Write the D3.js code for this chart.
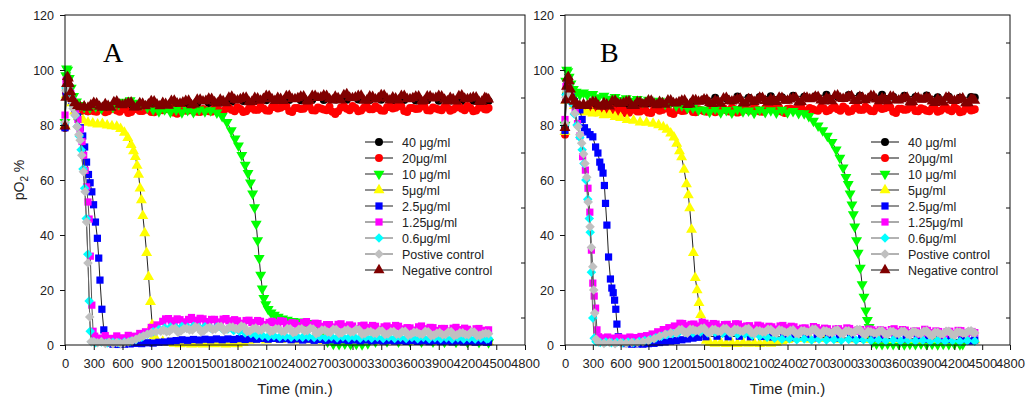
<!DOCTYPE html>
<html>
<head>
<meta charset="utf-8">
<script src="https://cdn.jsdelivr.net/npm/d3@7"></script>
<style>
body { margin: 0; background: #fff; }
text { font-family: "Liberation Sans", Arial, sans-serif; fill: #222; }
</style>
</head>
<body>
<script>
"use strict";
// legend labels and tick values
const names = ["40 μg/ml", "20μg/ml", "10 μg/ml", "5μg/ml", "2.5μg/ml", "1.25μg/ml", "0.6μg/ml", "Postive control", "Negative control"];
const xTicks = [0, 300, 600, 900, 1200, 1500, 1800, 2100, 2400, 2700, 3000, 3300, 3600, 3900, 4200, 4500, 4800];
const yTicks = [0, 20, 40, 60, 80, 100, 120];
const yMinor = [10, 30, 50, 70, 90, 110];

// panel A, [time (min), pO2 %]
const a40 = [[0,79],[10,93],[20,97],[35,97],[50,94],[70,90],[100,87],[140,85.5],[180,85.2],[240,85],[300,85.3],[420,85.5],[540,85.6],[660,86.2],[780,86.5],[900,86.7],[1020,87],[1140,87.3],[1260,87.6],[1380,87.8],[1500,88],[1620,88.2],[1740,88.5],[1860,88.7],[1980,88.8],[2100,89],[2220,88.9],[2340,89.1],[2460,89],[2580,89.2],[2700,89.1],[2820,89.3],[2940,89.2],[3060,89.3],[3180,89.1],[3300,89.2],[3420,89],[3540,89.1],[3660,88.9],[3780,89],[3900,88.8],[4020,88.9],[4140,88.7],[4260,88.8],[4380,88.6],[4420,88.7]];
const a20 = [[0,79],[10,91.5],[22,96],[35,96.5],[50,93.5],[70,90],[100,87],[140,85.8],[180,85.3],[240,85],[270,85.6],[300,85],[330,84.8],[360,86],[390,85.7],[420,84.6],[450,85],[480,85.8],[510,86.2],[540,85.3],[570,84.8],[600,86.3],[630,85.6],[660,84.4],[690,84.7],[720,85.7],[750,86.1],[780,85.1],[810,85.1],[840,86.2],[870,85.5],[900,84.7],[930,84.6],[960,85.9],[990,86.1],[1020,85.4],[1050,85.7],[1080,86.4],[1110,86.1],[1140,84.5],[1170,84.1],[1200,85.6],[1230,85.6],[1260,85.2],[1290,85.3],[1320,86.1],[1350,86.2],[1380,84.8],[1410,84.7],[1440,85.8],[1470,85.4],[1500,85],[1530,84.8],[1560,86],[1590,85.8],[1620,84.7],[1650,85.1],[1680,85.9],[1710,86.3],[1740,85.5],[1770,85],[1800,86.5],[1830,85.8],[1860,84.7],[1890,85],[1920,86],[1950,86.5],[1980,85.5],[2010,85.5],[2040,86.7],[2070,86],[2100,85.3],[2130,85.2],[2160,86.5],[2190,86.7],[2220,86],[2250,86.3],[2280,87],[2310,86.7],[2340,85.1],[2370,84.7],[2400,86.2],[2430,86.2],[2460,85.8],[2490,85.9],[2520,86.7],[2550,86.8],[2580,85.4],[2610,85.3],[2640,86.4],[2670,86],[2700,85.6],[2730,85.4],[2760,86.6],[2790,84.8],[2820,84],[2850,85],[2880,86.4],[2910,86.8],[2940,85.9],[2970,85.4],[3000,86.9],[3030,86.2],[3060,85],[3090,85.3],[3120,86.3],[3150,86.7],[3180,85.7],[3210,85.7],[3240,86.8],[3270,86.1],[3300,85.3],[3330,85.2],[3360,86.5],[3390,86.7],[3420,86],[3450,86.3],[3480,87],[3510,86.7],[3540,85.1],[3570,84.7],[3600,86.2],[3630,86.2],[3660,85.8],[3690,85.9],[3720,86.7],[3750,86.8],[3780,85.4],[3810,85.3],[3840,86.4],[3870,86],[3900,85.6],[3930,85.4],[3960,86.6],[3990,86.3],[4020,85.2],[4050,85.6],[4080,86.4],[4110,86.8],[4140,85.9],[4170,85.4],[4200,86.9],[4230,86.2],[4260,85],[4290,85.3],[4320,86.3],[4350,86.7],[4380,85.7],[4400,85.6],[4420,86.2]];
const a10 = [[0,81],[8,98],[16,100.5],[28,100],[45,97],[65,93.5],[90,90.5],[120,88.5],[160,87.2],[200,86.5],[260,86.3],[320,86.8],[380,86],[440,87.2],[500,86.5],[560,87.6],[620,88.4],[680,88.9],[740,88],[800,87.4],[860,86.4],[920,85.6],[980,84.9],[1040,85.7],[1100,84.8],[1160,85.5],[1220,84.6],[1280,85.4],[1340,84.7],[1400,85.6],[1460,84.9],[1520,85.3],[1585,84.5],[1640,83.2],[1690,81],[1735,78],[1775,75],[1810,72.5],[1845,69],[1880,65.5],[1910,62.5],[1935,59],[1958,55],[1978,50],[1995,44],[2010,38],[2026,31.6],[2042,25.5],[2058,20.5],[2075,17],[2095,14.8],[2120,13],[2150,11.8],[2185,10.9],[2225,10.2],[2270,9.6],[2320,9.1],[2380,8.7],[2440,8.5],[2500,8.3],[2560,7.9],[2620,6.5],[2680,3.5],[2740,1.2],[2800,0.4],[2860,0.3],[2920,0.5],[2980,0.3],[3040,0.4],[3100,0.2],[3160,0.6],[3240,1.2],[3360,1.3],[3480,1.2],[3600,1.3],[3720,1.2],[3840,1.2],[3960,1.1],[4080,1.1],[4200,1],[4320,1],[4420,0.9]];
const a5 = [[0,80],[12,91],[25,94],[45,92],[70,88],[100,85],[140,83],[190,81.8],[240,80.9],[290,80.6],[340,80.2],[390,80.4],[440,79.9],[490,79.6],[540,79.4],[580,78.6],[620,77.2],[655,75.3],[690,72.8],[715,70.5],[735,68.4],[752,65.2],[768,62],[783,57],[797,52.7],[812,47],[832,40.7],[852,33.5],[872,24.8],[892,15.7],[910,7.3],[930,3.2],[960,1.6],[1020,1.2],[1080,0.8],[1140,0.5],[1200,0.3],[1260,0.5],[1320,0.2],[1380,0.4],[1440,0.2],[1500,0.5],[1560,0.3],[1620,0.5],[1680,0.2],[1740,0.4],[1800,0.3],[1860,0.9],[1920,1.6],[1980,1.8],[2100,1.7],[2250,1.9],[2400,1.7],[2550,1.8],[2700,1.6],[2850,1.7],[3000,1.5],[3150,1.6],[3300,1.4],[3450,1.5],[3600,1.3],[3750,1.4],[3900,1.2],[4050,1.3],[4200,1.1],[4350,1.2],[4420,1.1]];
const a25 = [[0,79],[12,91],[25,94],[45,92],[70,89],[100,86],[130,83],[160,79],[185,76],[205,72],[225,66.5],[245,62],[262,59],[280,55.7],[298,51],[318,44.7],[338,38.8],[352,31.6],[365,23.6],[385,13],[405,5.5],[425,1.8],[450,0.6],[500,0.3],[560,0.2],[620,0.3],[680,0.4],[740,0.6],[800,0.5],[860,0.8],[920,0.7],[980,1],[1040,1.1],[1100,1.4],[1160,1.6],[1220,1.9],[1280,1.7],[1340,2],[1400,1.8],[1460,2.1],[1520,1.9],[1580,2.2],[1640,1.9],[1700,2.2],[1760,2],[1820,2.3],[1880,2],[1940,2.3],[2000,2.1],[2060,2.4],[2120,2.1],[2180,2.4],[2240,2.1],[2300,2.3],[2360,1.9],[2420,2.2],[2480,1.8],[2540,2.1],[2600,1.7],[2660,2],[2720,1.7],[2780,1.9],[2840,1.6],[2900,1.9],[2960,1.6],[3020,1.8],[3080,1.5],[3140,1.8],[3200,1.5],[3260,1.7],[3320,1.4],[3380,1.7],[3440,1.4],[3500,1.6],[3560,1.3],[3620,1.6],[3680,1.3],[3740,1.5],[3800,1.2],[3860,1.5],[3920,1.2],[3980,1.4],[4040,1.1],[4100,1.4],[4160,1.1],[4220,1.3],[4280,1],[4340,1.2],[4400,1],[4420,1.1]];
const a125 = [[0,83.6],[10,96],[22,96.5],[40,94],[60,91.5],[85,88.5],[110,85.5],[135,82],[158,78.5],[178,74],[195,69],[210,63.5],[225,57.5],[240,52],[252,45.8],[264,32.3],[280,14.5],[293,5],[310,3.2],[360,2.5],[420,3.4],[480,2.4],[540,3.3],[600,2.6],[660,3.5],[720,3.2],[780,4.2],[840,4.8],[900,6.4],[960,7.3],[1020,8.6],[1050,9.5],[1080,9.6],[1110,8.8],[1140,8.6],[1170,9.5],[1200,9.2],[1230,8.4],[1260,8.2],[1290,9.3],[1320,10],[1350,9],[1380,8.8],[1410,9.7],[1440,9.5],[1470,8.5],[1500,8.1],[1530,9.3],[1560,9.3],[1590,8.3],[1620,8.3],[1650,9.4],[1680,9.6],[1710,8.8],[1740,8.5],[1770,9.2],[1800,8.8],[1830,7.9],[1860,7.8],[1890,8.9],[1920,9],[1950,8.2],[1980,8],[2010,8.9],[2040,8.6],[2070,7.4],[2100,7.1],[2130,8.2],[2160,8.6],[2190,8],[2220,7.9],[2250,8.8],[2280,8.6],[2310,7.6],[2340,7.4],[2370,8.1],[2400,7.9],[2430,7],[2460,6.8],[2490,8.2],[2520,8.5],[2550,7.3],[2580,7.2],[2610,7.9],[2640,7.8],[2670,6.8],[2700,6.3],[2730,7.4],[2760,7.4],[2790,6.5],[2820,6.4],[2850,7.5],[2880,7.7],[2910,6.8],[2940,6.6],[2970,7.3],[3000,6.9],[3030,5.9],[3060,5.9],[3090,7],[3120,7.2],[3150,6.4],[3180,6.2],[3210,7.1],[3240,6.8],[3270,5.7],[3300,5.3],[3330,6.6],[3360,6.9],[3390,6.2],[3420,6.2],[3450,7.1],[3480,6.8],[3510,5.8],[3540,5.7],[3570,6.3],[3600,6.2],[3630,5.4],[3660,5.1],[3690,6.6],[3720,6.9],[3750,5.9],[3780,5.6],[3810,6.4],[3840,6.3],[3870,5.3],[3900,4.8],[3930,6],[3960,6],[3990,5],[4020,5],[4050,6.1],[4080,6.4],[4110,5.6],[4140,5.3],[4170,6.1],[4200,5.7],[4230,4.8],[4260,4.7],[4290,5.9],[4320,6],[4350,5.3],[4380,5.1],[4400,5.3],[4420,5.5]];
const a06 = [[0,80.7],[10,93.5],[25,94],[45,92],[65,90],[88,87],[108,83.5],[128,79.5],[148,76],[168,71],[188,64],[205,57],[222,46],[238,33],[252,16],[263,5],[278,1.2],[320,0.8],[380,1.1],[440,0.7],[500,1],[560,0.8],[620,1.1],[680,1.3],[740,1.9],[800,2.8],[860,3.8],[920,4.8],[980,5.6],[1040,6.2],[1100,6.5],[1160,6.3],[1220,6.7],[1280,6.4],[1340,6.8],[1400,6.4],[1460,6.6],[1520,6.2],[1580,6.4],[1640,5.9],[1700,5.8],[1760,5.3],[1820,5],[1880,4.4],[1940,4.1],[2000,3.6],[2060,3.4],[2120,3.1],[2180,3.3],[2240,2.9],[2300,3.2],[2360,2.8],[2420,3.1],[2480,2.8],[2540,3.1],[2600,2.7],[2660,3],[2720,2.7],[2780,3],[2840,2.6],[2900,2.9],[2960,2.6],[3020,2.9],[3080,2.5],[3140,2.8],[3200,2.5],[3260,2.8],[3320,2.4],[3380,2.8],[3440,2.4],[3500,2.7],[3560,2.4],[3620,2.7],[3680,2.3],[3740,2.7],[3800,2.3],[3860,2.6],[3920,2.3],[3980,2.6],[4040,2.2],[4100,2.6],[4160,2.2],[4220,2.5],[4280,2.2],[4340,2.5],[4400,2.2],[4420,2.4]];
const aPos = [[0,81],[10,92.5],[22,93.5],[35,92.7],[60,89],[85,86],[105,83.6],[125,79.4],[145,76.5],[158,74.5],[175,69],[192,63],[210,55.7],[225,44.7],[240,29.8],[258,10.2],[272,1.2],[300,1.3],[340,0.8],[380,1.2],[420,0.6],[460,1],[500,0.5],[540,0.9],[580,0.5],[620,0.8],[660,1.1],[700,1.5],[740,2.1],[780,2.7],[820,3.3],[860,3.9],[900,4.4],[950,4.8],[1000,5],[1030,5.4],[1060,4.8],[1090,5],[1120,5.9],[1150,6],[1180,4.6],[1210,5.1],[1240,5.9],[1270,6],[1300,5.5],[1330,5.5],[1360,6.6],[1390,6.3],[1420,4.8],[1450,5.2],[1480,6.1],[1510,6.4],[1540,5.6],[1570,5.8],[1600,6.7],[1630,6.7],[1660,5.3],[1690,5.7],[1720,6.5],[1750,6.5],[1780,5.9],[1810,5.8],[1840,6.9],[1870,6.5],[1900,4.9],[1930,5.1],[1960,5.9],[1990,6.2],[2020,5.4],[2050,5.5],[2080,6.3],[2110,6.3],[2140,4.9],[2170,5.2],[2200,5.9],[2230,5.8],[2260,5],[2290,4.9],[2320,6],[2350,5.9],[2380,4.5],[2410,4.8],[2440,5.7],[2470,5.9],[2500,5.1],[2530,5.2],[2560,6.1],[2590,5.8],[2620,4.1],[2650,4.6],[2680,5.4],[2710,5.4],[2740,4.7],[2770,4.6],[2800,5.7],[2830,5.6],[2860,4.2],[2890,4.5],[2920,5.3],[2950,5.5],[2980,4.7],[3010,4.8],[3040,5.7],[3070,5.5],[3100,3.9],[3130,4.2],[3160,4.8],[3190,4.9],[3220,4.3],[3250,4.2],[3280,5.2],[3310,5.1],[3340,3.8],[3370,4],[3400,4.8],[3430,4.9],[3460,3.9],[3490,4],[3520,4.9],[3550,5],[3580,3.6],[3610,3.9],[3640,4.6],[3670,4.6],[3700,4],[3730,3.9],[3760,5],[3790,4.8],[3820,3.4],[3850,3.6],[3880,4.3],[3910,4.5],[3940,3.7],[3970,3.8],[4000,4.7],[4030,4.8],[4060,3.4],[4090,3.7],[4120,4.4],[4150,4.4],[4180,3.8],[4210,3.7],[4240,4.8],[4270,4.7],[4300,3.4],[4330,3.5],[4360,4],[4390,4.3],[4420,4.1]];
const aNeg = [[0,79.5],[8,90],[16,95],[25,97.5],[35,97],[45,95],[60,92],[80,89.5],[100,88],[130,87],[160,86.5],[200,86.8],[240,86.3],[270,87.2],[300,88.1],[330,87.9],[360,86.7],[390,86.3],[420,87.6],[450,87],[480,86.3],[510,88.3],[540,88.6],[570,87.4],[600,87.2],[630,87.6],[660,88.1],[690,88.2],[720,86.4],[750,86.5],[780,88],[810,87.8],[840,86.9],[870,87.5],[900,88.7],[930,88.6],[960,87.5],[990,86.9],[1020,88.1],[1050,87.7],[1080,87.1],[1110,88.8],[1140,88.9],[1170,87.9],[1200,87.8],[1230,88.2],[1260,88.8],[1290,88.9],[1320,87.2],[1350,87.5],[1380,89.2],[1410,89.2],[1440,88.6],[1470,88.8],[1500,89.6],[1530,89.5],[1560,88.3],[1590,87.9],[1620,89.2],[1650,88.7],[1680,88],[1710,90],[1740,90.3],[1770,89.2],[1800,89],[1830,89.4],[1860,89.9],[1890,90],[1920,88.3],[1950,88.4],[1980,89.9],[2010,89.7],[2040,88.9],[2070,89.5],[2100,90.6],[2130,90.5],[2160,89.4],[2190,88.8],[2220,89.9],[2250,89.5],[2280,88.8],[2310,90.5],[2340,90.6],[2370,89.5],[2400,89.4],[2430,89.8],[2460,90.3],[2490,90.4],[2520,88.6],[2550,88.9],[2580,90.6],[2610,90.6],[2640,89.9],[2670,90.1],[2700,90.8],[2730,90.6],[2760,89.4],[2790,89],[2820,90.3],[2850,89.8],[2880,89],[2910,90.9],[2940,91.2],[2970,90],[3000,89.8],[3030,90.1],[3060,90.6],[3090,90.7],[3120,88.9],[3150,89],[3180,90.4],[3210,90.2],[3240,89.3],[3270,89.8],[3300,90.9],[3330,90.8],[3360,89.6],[3390,89],[3420,90.1],[3450,89.7],[3480,89],[3510,90.6],[3540,90.6],[3570,89.5],[3600,89.4],[3630,89.8],[3660,90.3],[3690,90.4],[3720,88.6],[3750,88.8],[3780,90.4],[3810,90.4],[3840,89.7],[3870,89.9],[3900,90.6],[3930,90.4],[3960,89.2],[3990,88.7],[4020,89.9],[4050,89.4],[4080,88.6],[4110,90.5],[4140,90.8],[4170,89.6],[4200,89.4],[4230,89.7],[4260,90.1],[4290,90.1],[4320,88.4],[4350,88.5],[4380,89.9],[4400,89.6],[4420,89.3]];

// panel B, [time (min), pO2 %]
const b40 = [[0,79.5],[10,91],[25,96],[40,96.5],[60,93],[90,89.5],[130,87.5],[200,87],[300,87.2],[420,87.4],[540,87.3],[660,87.6],[780,87.5],[900,87.8],[1020,87.7],[1140,88],[1260,88.2],[1380,88.6],[1500,89.4],[1620,89.9],[1740,89.6],[1860,90.4],[1980,89.9],[2100,90.2],[2220,90.5],[2340,90.1],[2460,90.6],[2580,90.3],[2700,90.5],[2820,91],[2940,90.4],[3060,90.9],[3180,90.6],[3300,90.4],[3420,91],[3540,90.3],[3660,90.6],[3780,90.2],[3900,90.7],[4020,90.1],[4140,90.3],[4260,89.9],[4380,90.2],[4420,90]];
const b20 = [[0,76.5],[10,90],[25,95],[40,95.5],[60,92],[90,88.5],[130,86.5],[180,85.5],[240,85.2],[270,85.7],[300,84.8],[330,84.6],[360,85.8],[390,85.5],[420,84.4],[450,84.8],[480,85.6],[510,86],[540,85.1],[570,84.6],[600,86.1],[630,85.4],[660,84.2],[690,84.5],[720,85.5],[750,85.9],[780,84.9],[810,84.9],[840,86],[870,85.3],[900,84.5],[930,84.4],[960,85.7],[990,85.9],[1020,85.2],[1050,85.5],[1080,86.2],[1110,85.9],[1140,84.4],[1170,84],[1200,85.5],[1230,85.5],[1260,85.1],[1290,85.2],[1320,86],[1350,86.1],[1380,84.7],[1410,84.6],[1440,85.7],[1470,85.4],[1500,85],[1530,84.8],[1560,86],[1590,85.7],[1620,84.6],[1650,85],[1680,85.8],[1710,86.2],[1740,85.4],[1770,84.9],[1800,86.4],[1830,85.7],[1860,84.5],[1890,84.8],[1920,85.8],[1950,86.3],[1980,85.3],[2010,85.3],[2040,86.4],[2070,85.7],[2100,84.9],[2130,84.8],[2160,86.1],[2190,86.3],[2220,85.7],[2250,86],[2280,86.7],[2310,86.4],[2340,84.8],[2370,84.4],[2400,85.9],[2430,86],[2460,85.6],[2490,85.7],[2520,86.5],[2550,86.6],[2580,85.2],[2610,85.1],[2640,86.2],[2670,85.8],[2700,85.4],[2730,85.2],[2760,86.4],[2790,86.1],[2820,85],[2850,85.4],[2880,86.2],[2910,86.6],[2940,85.7],[2970,85.2],[3000,86.7],[3030,86],[3060,84.8],[3090,85.1],[3120,86.1],[3150,86.5],[3180,85.5],[3210,85.5],[3240,86.6],[3270,85.9],[3300,85.1],[3330,85],[3360,86.3],[3390,86.5],[3420,85.8],[3450,86.1],[3480,86.8],[3510,86.4],[3540,84.8],[3570,84.4],[3600,85.9],[3630,85.9],[3660,85.5],[3690,85.6],[3720,86.4],[3750,86.5],[3780,85.1],[3810,85],[3840,86.1],[3870,85.7],[3900,85.2],[3930,85],[3960,86.2],[3990,85.9],[4020,84.8],[4050,85.2],[4080,86],[4110,86.4],[4140,85.5],[4170,85],[4200,86.5],[4230,85.8],[4260,84.6],[4290,84.9],[4320,85.9],[4350,86.3],[4380,85.3],[4400,85.5],[4420,85.7]];
const b10 = [[0,80],[8,96],[18,100],[30,99.5],[45,97.5],[65,95],[90,93],[120,92],[160,91],[200,91.8],[240,90.9],[300,91.2],[360,90],[420,90.6],[480,89.5],[540,90.1],[600,89],[660,89.7],[720,88.8],[780,89.4],[840,88.4],[900,89.1],[960,88.2],[1020,88.8],[1080,87.7],[1140,88.2],[1200,87],[1260,87.1],[1320,86.2],[1380,86.3],[1440,85.5],[1500,85.6],[1560,84.8],[1620,85.9],[1680,84.6],[1740,85.4],[1800,84.5],[1860,85.8],[1920,84.9],[1980,85.2],[2040,84.4],[2100,85.6],[2160,84.7],[2220,85.3],[2280,84.5],[2340,85.5],[2400,84.6],[2460,85],[2520,84.3],[2580,84.2],[2630,83.2],[2680,81.5],[2730,79.8],[2780,78],[2830,76],[2880,73.8],[2925,71],[2965,68],[3000,64.5],[3030,61],[3055,58.5],[3075,55],[3095,51],[3110,47.5],[3125,43],[3145,38],[3162,33.5],[3185,28],[3205,22],[3225,17.5],[3245,12.5],[3262,9],[3280,6.5],[3300,3.2],[3320,1.2],[3360,0.5],[3420,0.3],[3480,0.5],[3540,0.3],[3600,0.4],[3660,0.2],[3720,0.4],[3780,0.3],[3840,0.5],[3900,0.3],[3960,0.4],[4020,0.2],[4080,0.4],[4140,0.3],[4200,0.4],[4260,0.2],[4290,0.3]];
const b5 = [[0,77.5],[12,89],[25,93],[45,91.5],[70,89],[100,87],[140,85.5],[190,84.8],[240,84.6],[300,84.2],[360,84.3],[420,83.6],[480,83.7],[540,83],[600,82.6],[670,81.9],[740,81.6],[810,81],[880,80.9],[950,80.5],[1010,80],[1060,79.2],[1100,78.3],[1140,77],[1175,75.5],[1205,73.2],[1235,70.5],[1258,68.3],[1285,63.8],[1310,58.5],[1330,54.5],[1345,49.8],[1365,42],[1385,33.5],[1405,24.4],[1425,20],[1445,15.3],[1463,11],[1480,7.8],[1500,4],[1525,1.6],[1560,0.8],[1620,0.5],[1680,0.8],[1740,0.4],[1800,0.7],[1860,0.4],[1920,0.8],[1980,0.5],[2040,0.7],[2100,0.4],[2160,0.8],[2220,0.5],[2280,0.9],[2340,1.4],[2400,1.9],[2500,2.2],[2650,2],[2800,2.2],[2950,2],[3100,2.1],[3250,1.9],[3400,2.1],[3550,1.9],[3700,2],[3850,1.8],[4000,2],[4150,1.8],[4300,1.9],[4420,1.8]];
const b25 = [[0,78],[12,90],[25,93],[45,92],[70,90],[100,88.5],[130,87],[160,85.5],[185,82],[210,79],[240,77.5],[270,76.5],[300,75.7],[330,72],[355,69.8],[375,66.5],[392,64.7],[410,62.5],[425,58],[437,51.5],[452,43.6],[470,32],[490,24],[505,20.7],[520,19],[535,16.3],[548,13],[560,7.6],[575,3],[600,1],[660,0.5],[720,0.3],[780,0.4],[840,0.3],[900,0.5],[960,0.6],[1020,0.9],[1080,1.1],[1140,1.4],[1200,1.6],[1260,1.9],[1320,2.2],[1380,2.5],[1440,2.8],[1520,3],[1640,3.2],[1760,3],[1880,3.2],[2000,3],[2120,3.1],[2240,2.9],[2360,3],[2480,2.7],[2600,2.8],[2720,2.6],[2840,2.7],[2960,2.5],[3080,2.6],[3200,2.4],[3320,2.5],[3440,2.3],[3560,2.4],[3680,2.2],[3800,2.3],[3920,2.1],[4040,2.2],[4160,2],[4280,2.1],[4370,1.4],[4420,1.8]];
const b125 = [[0,82],[10,94],[22,95.5],[40,93.5],[60,91],[85,88],[110,85],[135,80.5],[160,76],[190,68.5],[220,63.6],[248,57],[268,48.3],[285,34.5],[300,22.5],[315,17.8],[330,13.4],[345,5.5],[362,3],[400,2.6],[460,2.9],[520,2.5],[580,2.8],[640,2.5],[700,2.9],[760,2.7],[820,3.1],[880,3.4],[940,4],[1000,4.8],[1060,5.6],[1120,6.3],[1180,6.9],[1240,7.9],[1270,7.8],[1300,6.9],[1330,6.9],[1360,7.5],[1390,7.6],[1420,6.5],[1450,6.9],[1480,8.3],[1510,7.9],[1540,7.1],[1570,7.1],[1600,7.8],[1630,7.6],[1660,6.3],[1690,6.6],[1720,7.4],[1750,7.5],[1780,6.4],[1810,6.7],[1840,7.7],[1870,7.6],[1900,6.6],[1930,6.5],[1960,6.9],[1990,7],[2020,5.9],[2050,6.1],[2080,7.2],[2110,6.9],[2140,6.2],[2170,6.1],[2200,6.8],[2230,6.6],[2260,5.3],[2290,5.8],[2320,6.9],[2350,7.1],[2380,6.2],[2410,6.1],[2440,6.8],[2470,6.6],[2500,5.6],[2530,5.6],[2560,6.1],[2590,6.2],[2620,5],[2650,5.4],[2680,6.7],[2710,6.3],[2740,5.4],[2770,5.4],[2800,6.1],[2830,5.9],[2860,4.6],[2890,4.9],[2920,5.8],[2950,5.9],[2980,4.8],[3010,5.1],[3040,6.2],[3070,6],[3100,5.1],[3130,5],[3160,5.5],[3190,5.6],[3220,4.5],[3250,4.7],[3280,5.8],[3310,5.5],[3340,4.8],[3370,4.8],[3400,5.5],[3430,5.3],[3460,4],[3490,4.5],[3520,5.6],[3550,5.9],[3580,4.9],[3610,4.9],[3640,5.6],[3670,5.4],[3700,4.4],[3730,4.4],[3760,5],[3790,5.1],[3820,3.9],[3850,4.3],[3880,5.7],[3910,5.3],[3940,4.4],[3970,4.4],[4000,5.1],[4030,4.9],[4060,3.7],[4090,4],[4120,4.8],[4150,5],[4180,3.9],[4210,4.2],[4240,5.3],[4270,5.2],[4300,4.3],[4330,4.2],[4360,4.7],[4390,4.9],[4420,4.5]];
const b06 = [[0,80],[10,91],[25,92],[45,90.5],[70,88],[100,84],[130,80],[160,75.5],[185,71],[205,66],[225,60],[245,53],[262,46],[272,41],[285,26.5],[300,9.8],[315,2.5],[335,1.2],[380,0.9],[440,1.1],[500,0.8],[560,1],[620,0.8],[680,1.1],[740,0.9],[800,1.3],[860,1.6],[920,2],[980,2.6],[1040,3.2],[1100,3.7],[1160,4.1],[1220,4.4],[1300,4.6],[1380,4.4],[1460,4.7],[1540,4.4],[1620,4.6],[1700,4.2],[1780,4.4],[1860,3.9],[1940,4],[2020,3.5],[2100,3.3],[2180,2.8],[2260,2.5],[2340,2.1],[2420,2.3],[2500,1.9],[2580,2.2],[2660,1.8],[2740,2.1],[2820,1.8],[2900,2],[2980,1.7],[3060,2],[3140,1.7],[3220,1.9],[3300,1.6],[3380,1.9],[3460,1.6],[3540,1.8],[3620,1.5],[3700,1.8],[3780,1.5],[3860,1.7],[3940,1.4],[4020,1.7],[4100,1.4],[4180,1.6],[4260,1.3],[4340,1.6],[4420,1.4]];
const bPos = [[0,80.5],[10,90],[20,92.5],[40,91.5],[75,89],[105,84.3],[140,79.4],[160,76.5],[180,73.4],[200,69.5],[215,66],[235,61],[250,52],[270,43],[285,35.5],[300,28.5],[310,20],[320,11.6],[335,2.2],[360,1],[420,0.6],[480,0.9],[540,0.5],[600,0.8],[660,0.6],[720,0.9],[780,0.8],[840,1.2],[900,1.6],[960,2.3],[1020,3.2],[1080,3.9],[1140,4.4],[1200,4.4],[1230,5.5],[1260,5.6],[1290,4.6],[1320,4.3],[1350,5.7],[1380,5.6],[1410,5.2],[1440,5.2],[1470,6],[1500,6.2],[1530,4.7],[1560,4.3],[1590,5.6],[1620,5.6],[1650,5],[1680,4.9],[1710,6],[1740,6],[1770,4.8],[1800,4.4],[1830,5.7],[1860,5.6],[1890,5.1],[1920,5],[1950,5.8],[1980,6],[2010,4.5],[2040,4.1],[2070,5.3],[2100,5.2],[2130,4.7],[2160,4.7],[2190,5.7],[2220,5.6],[2250,4.6],[2280,4.3],[2310,5.5],[2340,5.3],[2370,4.7],[2400,4.5],[2430,5.3],[2460,5.5],[2490,4.2],[2520,4],[2550,5.2],[2580,5.2],[2610,4.7],[2640,4.7],[2670,5.7],[2700,5.7],[2730,4.4],[2760,3.8],[2790,5.2],[2820,5.1],[2850,4.6],[2880,4.4],[2910,5.3],[2940,5.5],[2970,4.2],[3000,4],[3030,5.2],[3060,5.2],[3090,4.6],[3120,4.6],[3150,5.6],[3180,5.6],[3210,4.3],[3240,3.7],[3270,5],[3300,4.8],[3330,4.4],[3360,4.3],[3390,5.1],[3420,5.2],[3450,4],[3480,3.9],[3510,5],[3540,4.9],[3570,4.2],[3600,4],[3630,5],[3660,5],[3690,3.9],[3720,3.6],[3750,4.9],[3780,4.8],[3810,4.3],[3840,4.2],[3870,5],[3900,5.2],[3930,3.7],[3960,3.4],[3990,4.6],[4020,4.6],[4050,4],[4080,4],[4110,5],[4140,5],[4170,3.9],[4200,3.5],[4230,4.8],[4260,4.7],[4290,4.3],[4320,4.2],[4350,5],[4380,5.2],[4400,4.6],[4420,4.4]];
const bNeg = [[0,79],[8,89],[16,94],[25,97],[35,97.5],[45,96],[60,93],[80,90],[100,88.5],[130,87.5],[160,87],[200,87.5],[240,87],[270,87.9],[300,88.4],[330,88.3],[360,87.1],[390,86.7],[420,88],[450,87.5],[480,86.8],[510,88.7],[540,88.9],[570,87.8],[600,87.7],[630,88],[660,88.5],[690,88.7],[720,87],[750,87],[780,88.4],[810,88.3],[840,87.5],[870,88],[900,89],[930,88.9],[960,87.8],[990,87.2],[1020,88.4],[1050,88],[1080,87.4],[1110,89],[1140,89],[1170,88],[1200,87.9],[1230,88.3],[1260,88.9],[1290,89],[1320,87.3],[1350,87.5],[1380,89.1],[1410,89.1],[1440,88.5],[1470,88.6],[1500,89.3],[1530,89.2],[1560,88.1],[1590,87.7],[1620,89],[1650,88.5],[1680,87.8],[1710,89.7],[1740,89.9],[1770,88.8],[1800,88.6],[1830,88.9],[1860,89.4],[1890,89.6],[1920,87.9],[1950,88],[1980,89.4],[2010,89.2],[2040,88.4],[2070,88.9],[2100,90],[2130,89.9],[2160,88.8],[2190,88.2],[2220,89.4],[2250,89],[2280,88.4],[2310,90],[2340,89.9],[2370,88.9],[2400,88.9],[2430,89.3],[2460,89.8],[2490,89.9],[2520,88.2],[2550,88.4],[2580,90],[2610,90],[2640,89.4],[2670,89.6],[2700,90.3],[2730,90.2],[2760,89],[2790,88.6],[2820,89.9],[2850,89.4],[2880,88.7],[2910,90.6],[2940,90.8],[2970,89.7],[3000,89.5],[3030,89.8],[3060,90.3],[3090,90.5],[3120,88.8],[3150,88.8],[3180,90.2],[3210,90],[3240,89.1],[3270,89.6],[3300,90.6],[3330,90.5],[3360,89.3],[3390,88.7],[3420,89.8],[3450,89.4],[3480,88.7],[3510,90.3],[3540,90.2],[3570,89.1],[3600,89],[3630,89.4],[3660,89.9],[3690,90],[3720,88.2],[3750,88.4],[3780,89.9],[3810,89.9],[3840,89.2],[3870,89.3],[3900,90],[3930,89.8],[3960,88.6],[3990,88.1],[4020,89.4],[4050,88.9],[4080,88.2],[4110,90],[4140,90.1],[4170,89],[4200,88.8],[4230,89.1],[4260,89.5],[4290,89.7],[4320,88],[4350,88],[4380,89.4],[4400,89.2],[4420,88.9]];

const panelA = [a40, a20, a10, a5, a25, a125, a06, aPos, aNeg];
const panelB = [b40, b20, b10, b5, b25, b125, b06, bPos, bNeg];

// styles
const colors = ["#000000", "#ff0000", "#00ff00", "#ffff00", "#0000ff", "#ff00ff", "#00ffff", "#c0c0c0", "#800000"];
const shapes = ["circle", "circle", "down", "up", "square", "square", "diamond", "diamond", "up"];
const lineColors = ["#111", "#111", "#222", "#222", "#222", "#555", "#666", "#666", "#111"];

const W = 1035, H = 405;
const plotTop = 15, plotBottom = 345;
const svg = d3.select("body").append("svg").attr("width", W).attr("height", H);

function symbolPath(shape) {
	if (shape == "circle") return d3.symbol(d3.symbolCircle, 50)();
	if (shape == "square") return d3.symbol(d3.symbolSquare, 52)();
	if (shape == "diamond") return d3.symbol(d3.symbolSquare, 46)();
	return d3.symbol(d3.symbolTriangle, 52)();
}
function symbolRot(shape) {
	if (shape == "down") return " rotate(180)";
	if (shape == "diamond") return " rotate(45)";
	return "";
}

function panel(series, x0, x1, letter, letterX, legendX, yTitle) {
	const x = d3.scaleLinear().domain([0, 4800]).range([x0, x1]);
	const y = d3.scaleLinear().domain([0, 120]).range([plotBottom, plotTop]);
	const g = svg.append("g");

	// data
	const line = d3.line().x(d => x(d[0])).y(d => y(d[1]));
	series.forEach((s, i) => {
		g.append("path").attr("d", line(s)).attr("fill", "none").attr("stroke", lineColors[i]).attr("stroke-width", 1);
		const p = symbolPath(shapes[i]);
		g.append("g").selectAll("path").data(s).enter().append("path")
			.attr("d", p)
			.attr("transform", d => "translate(" + x(d[0]) + "," + y(d[1]) + ")" + symbolRot(shapes[i]))
			.attr("fill", colors[i]);
	});

	// frame and axes
	g.append("rect").attr("x", x0).attr("y", plotTop).attr("width", x1 - x0).attr("height", plotBottom - plotTop)
		.attr("fill", "none").attr("stroke", "#111").attr("stroke-width", 1);
	const xa = g.append("g").attr("transform", "translate(0," + plotBottom + ")")
		.call(d3.axisBottom(x).tickValues(xTicks).tickSize(5).tickPadding(9).tickFormat(d3.format("d")));
	const ya = g.append("g").attr("transform", "translate(" + x0 + ",0)")
		.call(d3.axisLeft(y).tickValues(yTicks).tickSize(5).tickPadding(6));
	const ra = g.append("g").attr("transform", "translate(" + x1 + ",0)")
		.call(d3.axisLeft(y).tickValues(yMinor).tickSize(4).tickFormat(""));
	[xa, ya, ra].forEach(a => {
		a.attr("font-family", null).attr("font-size", null);
		a.select(".domain").remove();
		a.selectAll("line").attr("stroke", "#111");
		a.selectAll("text").attr("fill", "#222");
	});
	xa.selectAll("text").style("font-size", "13px");
	ya.selectAll("text").style("font-size", "12.5px");
	ra.selectAll("line").attr("x2", -4);

	// labels
	g.append("text").attr("x", (x0 + x1) / 2).attr("y", 394).attr("text-anchor", "middle")
		.style("font-size", "15px").text("Time (min.)");
	g.append("text").attr("x", letterX).attr("y", 62)
		.style("font-family", "'Liberation Serif', 'Times New Roman', serif").style("font-size", "28px").style("fill", "#000").text(letter);
	if (yTitle) {
		const t = g.append("text").attr("transform", "translate(24,180) rotate(-90)").attr("text-anchor", "middle").style("font-size", "14px");
		t.append("tspan").text("pO");
		t.append("tspan").attr("dy", 4).style("font-size", "10px").text("2");
		t.append("tspan").attr("dy", -4).text(" %");
	}

	// legend
	const lg = g.append("g");
	names.forEach((n, i) => {
		const ly = 142 + 16 * i;
		lg.append("line").attr("x1", legendX).attr("x2", legendX + 28).attr("y1", ly).attr("y2", ly)
			.attr("stroke", lineColors[i]).attr("stroke-width", 1);
		lg.append("path").attr("d", symbolPath(shapes[i]))
			.attr("transform", "translate(" + (legendX + 14) + "," + ly + ")" + symbolRot(shapes[i]))
			.attr("fill", colors[i]);
		lg.append("text").attr("x", legendX + 37).attr("y", ly + 4.5).style("font-size", "12.5px").text(n);
	});
}

panel(panelA, 65, 525, "A", 103, 365, true);
panel(panelB, 565, 1010, "B", 600, 871, false);
</script>
</body>
</html>
